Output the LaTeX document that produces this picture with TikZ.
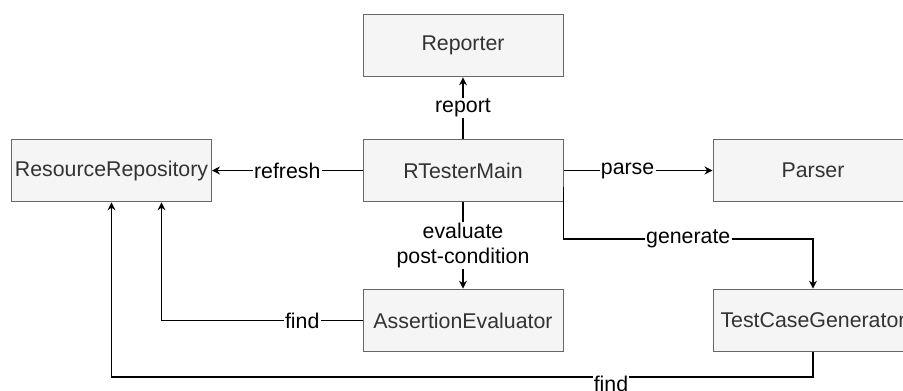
\documentclass[tikz,border=0pt]{standalone}
\usepackage{fontspec}
\setmainfont{Liberation Sans}
\usepackage{xcolor}
\usetikzlibrary{arrows.meta}
\definecolor{boxfill}{HTML}{F5F5F5}
\definecolor{boxline}{HTML}{666666}
\definecolor{boxtext}{HTML}{333333}

\begin{document}
\begin{tikzpicture}[x=0.75pt, y=-0.75pt,
    font=\fontsize{16}{18.5}\selectfont,
    >={Stealth[length=6pt,width=6pt]},
    line width=0.8pt,
    lbl/.style={fill=white, inner sep=1pt, align=center, text=black}]
  \useasboundingbox (0,0) rectangle (903,390);

  \begin{scope}[every node/.style={rectangle, draw=boxline, line width=0.75pt,
      fill=boxfill, text=boxtext, minimum width=150pt, minimum height=47pt, inner sep=0pt}]
    \node (reporter) at (463,45.5) {Reporter};
    \node (main) at (463,170.5) {RTesterMain};
    \node (repo) at (111.5,170.5) {ResourceRepository};
    \node (parser) at (813,170.5) {Parser};
    \node (assert) at (463,320.5) {AssertionEvaluator};
    \node (gen) at (813,320.5) {TestCaseGenerator};
  \end{scope}

  \path [->] (main) edge node[lbl] {report} (reporter);
  \path [->] (main) edge node[lbl] {refresh} (repo);
  \path [->] (main) edge node[lbl, pos=0.43] {parse} (parser);
  \path [->] (main) edge node[lbl] {evaluate\\post-condition} (assert);

  \draw [->] ([yshift=-12pt]main.east) -- (main.east |- 0,239)
    -| node[lbl, pos=0.25] {generate} (gen);
  \draw [->] (assert) -| node[lbl, pos=0.15] {find} ([xshift=37.5pt]repo.south);

  \coordinate (genfoot) at (gen |- 0,377);
  \coordinate (repofoot) at (repo |- 0,377);
  \draw [->] (gen) -- (genfoot) -- (repofoot) -- (repo);
  \node[lbl, anchor=north, inner sep=0.5pt] (findlbl) at (611,375) {find};
\end{tikzpicture}
\end{document}
